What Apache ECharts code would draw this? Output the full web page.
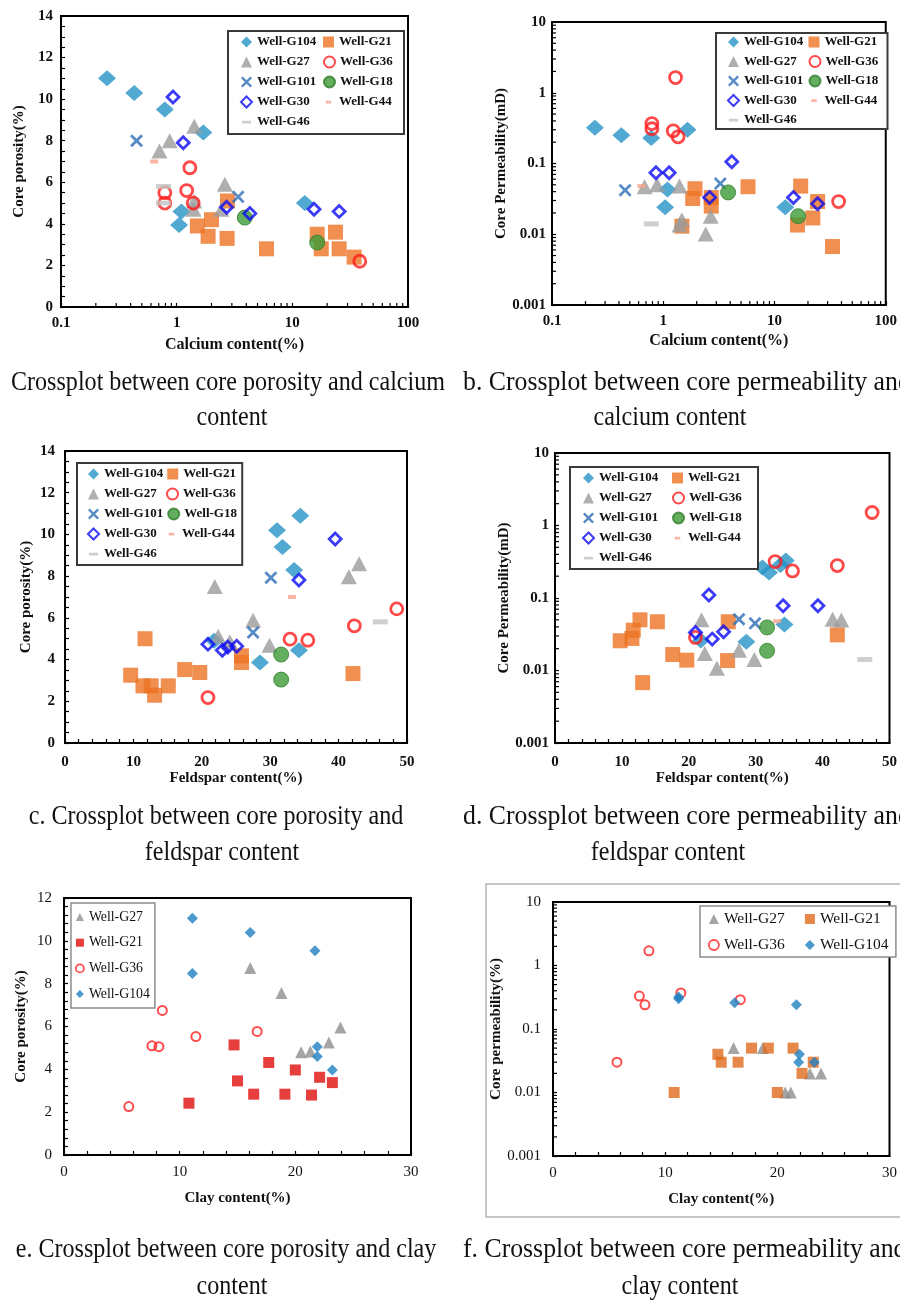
<!DOCTYPE html>
<html>
<head>
<meta charset="utf-8">
<title>Core crossplots</title>
<script src="https://cdn.jsdelivr.net/npm/echarts@6/dist/echarts.min.js"></script>
<style>
  html, body { margin: 0; padding: 0; background: #fff; }
  #chart { width: 900px; height: 1300px; }
</style>
</head>
<body>
<div id="chart"></div>
<script>
// ---------- data: calcium content (%) vs core porosity (%) ----------
const aG104 = [[0.25, 11.0], [0.43, 10.3], [0.79, 9.5], [1.70, 8.4], [1.10, 4.6], [1.05, 3.95], [12.8, 5.0]];
const aG21 = [[2.75, 5.1], [1.51, 3.9], [2.0, 4.2], [1.87, 3.4], [2.73, 3.3], [5.98, 2.8], [16.4, 3.5], [17.8, 2.8], [23.6, 3.6], [25.4, 2.8], [34.2, 2.4]];
const aG27 = [[0.71, 7.5], [0.87, 8.0], [1.42, 8.7], [2.61, 5.9], [1.42, 5.1], [1.40, 4.7], [2.44, 4.7]];
const aG36 = [[1.30, 6.7], [1.22, 5.6], [0.79, 5.5], [0.79, 5.0], [1.39, 5.0], [38.3, 2.2]];
const aG101 = [[0.45, 8.0], [3.40, 5.3]];
const aG18 = [[3.88, 4.3], [16.4, 3.1]];
const aG30 = [[0.93, 10.1], [1.14, 7.9], [2.70, 4.8], [4.29, 4.5], [15.4, 4.7], [25.4, 4.6]];
const aG44 = [[0.64, 7.0]];
const aG46 = [[0.77, 5.8], [0.77, 5.0]];

// ---------- data: calcium content (%) vs core permeability (mD) ----------
const bG104 = [[0.243, 0.32], [0.42, 0.25], [0.78, 0.23], [1.65, 0.30], [1.09, 0.043], [1.04, 0.024], [12.5, 0.024]];
const bG21 = [[1.93, 0.044], [1.84, 0.032], [1.47, 0.013], [2.70, 0.033], [2.70, 0.025], [5.78, 0.047], [17.2, 0.048], [16.1, 0.0135], [22.1, 0.017], [24.4, 0.029], [33.2, 0.0067]];
const bG27 = [[0.68, 0.047], [0.88, 0.05], [1.40, 0.048], [1.47, 0.016], [1.40, 0.0135], [2.41, 0.0101], [2.67, 0.018]];
const bG36 = [[1.29, 1.64], [0.79, 0.367], [0.79, 0.31], [1.23, 0.29], [1.36, 0.238], [37.7, 0.029]];
const bG101 = [[0.454, 0.042], [3.26, 0.052]];
const bG18 = [[3.83, 0.039], [16.3, 0.018]];
const bG30 = [[0.86, 0.074], [1.13, 0.074], [2.61, 0.033], [4.13, 0.106], [14.8, 0.033], [24.4, 0.027]];
const bG44 = [[0.636, 0.048]];
const bG46 = [[0.78, 0.014]];

// ---------- data: feldspar content (%) vs core porosity (%) ----------
const cG104 = [[34.4, 10.9], [31.0, 10.2], [31.8, 9.4], [33.5, 8.3], [34.2, 4.45], [28.5, 3.86], [21.8, 4.9]];
const cG21 = [[11.7, 5.0], [9.6, 3.25], [11.4, 2.74], [12.6, 2.74], [13.1, 2.29], [15.1, 2.74], [17.5, 3.52], [19.7, 3.38], [25.8, 4.18], [25.8, 3.86], [42.1, 3.33]];
const cG27 = [[21.9, 7.5], [22.4, 5.12], [24.1, 4.85], [27.5, 5.89], [29.9, 4.69], [41.5, 7.97], [43.0, 8.6]];
const cG36 = [[20.9, 2.18], [32.9, 4.98], [35.5, 4.93], [42.3, 5.62], [48.5, 6.43]];
const cG101 = [[30.1, 7.92], [27.5, 5.3]];
const cG18 = [[31.6, 4.24], [31.6, 3.04]];
const cG30 = [[39.5, 9.78], [34.2, 7.81], [20.9, 4.74], [23.0, 4.45], [23.8, 4.6], [25.1, 4.64]];
const cG44 = [[33.2, 7.0]];
const cG46 = [[46.1, 5.81]];

// ---------- data: feldspar content (%) vs core permeability (mD) ----------
const dG104 = [[31.0, 0.263], [32.0, 0.224], [33.7, 0.286], [34.5, 0.328], [34.3, 0.043], [28.6, 0.025], [21.8, 0.026]];
const dG21 = [[9.75, 0.0257], [11.5, 0.0277], [11.7, 0.036], [12.7, 0.05], [13.1, 0.0068], [15.3, 0.047], [17.6, 0.0166], [19.7, 0.0139], [25.9, 0.047], [25.8, 0.0137], [42.2, 0.031]];
const dG27 = [[21.9, 0.05], [22.4, 0.0172], [24.2, 0.0107], [27.5, 0.019], [29.8, 0.0142], [41.5, 0.051], [42.8, 0.0497]];
const dG36 = [[21.0, 0.0286], [32.9, 0.318], [35.5, 0.236], [42.2, 0.28], [47.4, 1.51]];
const dG101 = [[27.5, 0.051], [29.9, 0.0447]];
const dG18 = [[31.7, 0.0393], [31.7, 0.0187]];
const dG30 = [[23.0, 0.11], [21.0, 0.0335], [23.5, 0.0271], [25.2, 0.0343], [34.1, 0.0783], [39.3, 0.0783]];
const dG44 = [[33.2, 0.048]];
const dG46 = [[46.3, 0.0142]];

// ---------- data: clay content (%) vs core porosity (%) ----------
const eG27 = [[16.1, 8.73], [18.8, 7.56], [20.5, 4.8], [21.3, 4.83], [22.9, 5.25], [23.9, 5.95]];
const eG21 = [[14.7, 5.14], [10.8, 2.42], [15.0, 3.46], [16.4, 2.84], [17.7, 4.32], [19.1, 2.84], [20.0, 3.97], [21.4, 2.8], [22.1, 3.63], [23.2, 3.38]];
const eG36 = [[5.6, 2.26], [7.6, 5.1], [8.2, 5.06], [8.5, 6.75], [11.4, 5.53], [16.7, 5.77]];
const eG104 = [[11.1, 11.06], [11.1, 8.48], [16.1, 10.39], [21.7, 9.54], [21.9, 5.06], [21.9, 4.6], [23.2, 3.97]];

// ---------- data: clay content (%) vs core permeability ----------
const fG27 = [[16.1, 0.05], [18.7, 0.05], [20.7, 0.01], [21.2, 0.01], [22.9, 0.02], [23.9, 0.02]];
const fG21 = [[10.8, 0.01], [14.7, 0.04], [15.0, 0.03], [16.5, 0.03], [17.7, 0.05], [19.2, 0.05], [20.0, 0.01], [21.4, 0.05], [22.2, 0.02], [23.2, 0.03]];
const fG36 = [[5.7, 0.03], [7.7, 0.33], [8.2, 0.24], [8.55, 1.7], [11.4, 0.37], [16.7, 0.29]];
const fG104 = [[11.2, 0.32], [11.2, 0.3], [16.2, 0.26], [21.7, 0.24], [21.97, 0.04], [21.9, 0.03], [23.3, 0.03]];

// ---------- text ----------
const axisTitles = {
  calcium: 'Calcium content(%)', feldspar: 'Feldspar content(%)', clay: 'Clay content(%)',
  porosity: 'Core porosity(%)', permMD: 'Core Permeability(mD)', permPct: 'Core permeability(%)'
};
const captions = [
  ['Crossplot between core porosity and calcium', 'content'],
  ['b. Crossplot between core permeability and', 'calcium content'],
  ['c. Crossplot between core porosity and', 'feldspar content'],
  ['d. Crossplot between core permeability and', 'feldspar content'],
  ['e. Crossplot between core porosity and clay', 'content'],
  ['f. Crossplot between core permeability and', 'clay content']
];

// ---------- styling ----------
const FONT = '"Liberation Serif", "Times New Roman", serif';
const CLEAR = 'rgba(255,255,255,0)';
const X_PATH = 'path://M0,1.5L1.5,0L5,3.5L8.5,0L10,1.5L6.5,5L10,8.5L8.5,10L5,6.5L1.5,10L0,8.5L3.5,5Z';
const DASH_SHORT = 'path://M0,0L0.01,0L0,0.01Z M3,4.5H9V7.5H3Z M12,12L11.99,12L12,11.99Z';
const DASH_LONG = 'path://M0,0L0.01,0L0,0.01Z M1,4.5H11V7.5H1Z M12,12L11.99,12L12,11.99Z';

const markStyle = {
  'Well-G104': { symbol: 'diamond', symbolSize: [18, 16], itemStyle: { color: '#2592c6' }, icon: 'diamond', legendStyle: { color: '#2592c6' } },
  'Well-G21': { symbol: 'rect', symbolSize: 15, itemStyle: { color: '#ec7323' }, icon: 'rect', legendStyle: { color: '#ec7323' } },
  'Well-G27': { symbol: 'triangle', symbolSize: [16, 15], itemStyle: { color: '#9b9b9b' }, icon: 'triangle', legendStyle: { color: '#9b9b9b' } },
  'Well-G36': { symbol: 'circle', symbolSize: 12, itemStyle: { color: CLEAR, borderColor: '#ff1a1a', borderWidth: 2.8 }, icon: 'circle', legendStyle: { color: '#fff', borderColor: '#ff1a1a', borderWidth: 2 } },
  'Well-G101': { symbol: X_PATH, symbolSize: 13, itemStyle: { color: '#2c6db5' }, icon: X_PATH, legendStyle: { color: '#2c6db5' } },
  'Well-G18': { symbol: 'circle', symbolSize: 15, itemStyle: { color: '#3d9b37', borderColor: '#2f7d2b', borderWidth: 1 }, icon: 'circle', legendStyle: { color: '#3d9b37' } },
  'Well-G30': { symbol: 'diamond', symbolSize: 12, itemStyle: { color: CLEAR, borderColor: '#0a0af5', borderWidth: 2.8 }, icon: 'diamond', legendStyle: { color: '#fff', borderColor: '#0a0af5', borderWidth: 2 } },
  'Well-G44': { symbol: 'rect', symbolSize: [8, 4], itemStyle: { color: '#f6a38b' }, icon: DASH_SHORT, legendStyle: { color: '#f6a38b' } },
  'Well-G46': { symbol: 'rect', symbolSize: [15, 5], itemStyle: { color: '#c3c3c3' }, icon: DASH_LONG, legendStyle: { color: '#c3c3c3' } }
};

// clay panels use smaller marks; the porosity plot draws Well-G21 in red
const clayStyle = {
  'Well-G27': { symbol: 'triangle', symbolSize: 12, itemStyle: { color: '#8f8f8f' }, icon: 'triangle', legendStyle: { color: '#8f8f8f' } },
  'Well-G21': { symbol: 'rect', symbolSize: 11, itemStyle: { color: '#e06a1c' }, icon: 'rect', legendStyle: { color: '#e06a1c' } },
  'Well-G36': { symbol: 'circle', symbolSize: 9, itemStyle: { color: CLEAR, borderColor: '#ff1f1f', borderWidth: 2 }, icon: 'circle', legendStyle: { color: '#fff', borderColor: '#ff1f1f', borderWidth: 1.8 } },
  'Well-G104': { symbol: 'diamond', symbolSize: 11, itemStyle: { color: '#1f80c2' }, icon: 'diamond', legendStyle: { color: '#1f80c2' } }
};
const clayRed = '#e00d0d';

// ---------- panel layout ----------
const panels = [
  { grid: { left: 61, top: 16, width: 347, height: 291 },
    x: { log: true, min: 0.1, max: 100, name: axisTitles.calcium, gap: 30, margin: 9, nameSize: 16 },
    y: { min: 0, max: 14, interval: 2, minor: 4, name: axisTitles.porosity, gap: 34, margin: 8 },
    bold: true,
    wells: [['Well-G104', aG104], ['Well-G21', aG21], ['Well-G27', aG27], ['Well-G36', aG36], ['Well-G101', aG101], ['Well-G18', aG18], ['Well-G30', aG30], ['Well-G44', aG44], ['Well-G46', aG46]],
    legend: { left: 228, top: 31, width: 190, padding: [3, 2, 4, 12], textW: 63, gap: 4 } },
  { grid: { left: 552, top: 22, width: 342, height: 283 },
    x: { log: true, min: 0.1, max: 100, name: axisTitles.calcium, gap: 28, margin: 9, nameSize: 16 },
    y: { log: true, min: 0.001, max: 10, name: axisTitles.permMD, gap: 36, margin: 6 },
    bold: true,
    wells: [['Well-G104', bG104], ['Well-G21', bG21], ['Well-G27', bG27], ['Well-G36', bG36], ['Well-G101', bG101], ['Well-G18', bG18], ['Well-G30', bG30], ['Well-G44', bG44], ['Well-G46', bG46]],
    legend: { left: 716, top: 33, width: 185, padding: [1, 1, 1, 11], textW: 62, gap: 3.5 } },
  { grid: { left: 65, top: 451, width: 342, height: 292 },
    x: { min: 0, max: 50, interval: 10, minor: 5, name: axisTitles.feldspar, gap: 27, margin: 12 },
    y: { min: 0, max: 14, interval: 2, minor: 4, name: axisTitles.porosity, gap: 31, margin: 10 },
    bold: true,
    wells: [['Well-G104', cG104], ['Well-G21', cG21], ['Well-G27', cG27], ['Well-G36', cG36], ['Well-G101', cG101], ['Well-G18', cG18], ['Well-G30', cG30], ['Well-G44', cG44], ['Well-G46', cG46]],
    legend: { left: 77, top: 463, width: 180, padding: [3, 0, 3, 10], textW: 59, gap: 4 } },
  { grid: { left: 555, top: 453, width: 340, height: 290 },
    x: { min: 0, max: 50, interval: 10, minor: 5, name: axisTitles.feldspar, gap: 27, margin: 12 },
    y: { log: true, min: 0.001, max: 10, name: axisTitles.permMD, gap: 40, margin: 6 },
    bold: true,
    wells: [['Well-G104', dG104], ['Well-G21', dG21], ['Well-G27', dG27], ['Well-G36', dG36], ['Well-G101', dG101], ['Well-G18', dG18], ['Well-G30', dG30], ['Well-G44', dG44], ['Well-G46', dG46]],
    legend: { left: 570, top: 467, width: 200, padding: [3, 0, 3, 12], textW: 70, gap: 4 } },
  { grid: { left: 64, top: 898, width: 347, height: 257 },
    x: { min: 0, max: 30, interval: 10, minor: 5, name: axisTitles.clay, gap: 36, margin: 10 },
    y: { min: 0, max: 12, interval: 2, minor: 5, name: axisTitles.porosity, gap: 35, margin: 12 },
    bold: false, clay: true,
    wells: [['Well-G27', eG27], ['Well-G21', eG21], ['Well-G36', eG36], ['Well-G104', eG104]],
    legend: { left: 71, top: 903, vertical: true, padding: [5, 5, 5, 4], gap: 7.7, fontSize: 13.8, icon: 8 } },
  { grid: { left: 553, top: 902, width: 343, height: 254 },
    x: { min: 0, max: 30, interval: 10, minor: 5, name: axisTitles.clay, gap: 36, margin: 10 },
    y: { log: true, min: 0.001, max: 10, name: axisTitles.permPct, gap: 44, margin: 12 },
    bold: false, clay: true,
    wells: [['Well-G27', fG27], ['Well-G21', fG21], ['Well-G36', fG36], ['Well-G104', fG104]],
    legend: { left: 700, top: 906, width: 200, padding: [4, 3, 3, 8], textW: 73, gap: 8, fontSize: 15.5, icon: 10 } }
];

// right-hand captions run a little wider than the left-hand ones
const captionPos = [
  { x: 228, y1: 383, y2: 418, align1: 'center', x2: 232, sx: 0.86 },
  { x: 463, y1: 383, y2: 418, align1: 'left', x2: 670, sx: 0.92 },
  { x: 216, y1: 817, y2: 853, align1: 'center', x2: 222, sx: 0.86 },
  { x: 463, y1: 817, y2: 853, align1: 'left', x2: 668, sx: 0.92 },
  { x: 226, y1: 1250, y2: 1287, align1: 'center', x2: 232, sx: 0.86 },
  { x: 463, y1: 1250, y2: 1287, align1: 'left', x2: 680, sx: 0.92 }
];

// ---------- builders ----------
function axisFor(i, spec, bold) {
  const ax = {
    gridIndex: i,
    name: spec.name,
    nameLocation: 'middle',
    nameGap: spec.gap,
    nameTextStyle: { fontFamily: FONT, fontWeight: 'bold', fontSize: spec.nameSize || 15, color: '#111' },
    axisLine: { show: true, onZero: false, lineStyle: { color: '#000', width: 2 } },
    axisTick: { show: true, inside: true, length: 4, lineStyle: { color: '#000', width: 1.2 } },
    axisLabel: { fontFamily: FONT, fontWeight: bold ? 'bold' : 'normal', fontSize: 15, color: '#111', margin: spec.margin },
    splitLine: { show: false },
    min: spec.min,
    max: spec.max
  };
  if (spec.log) {
    ax.type = 'log';
    ax.logBase = 10;
  } else {
    ax.type = 'value';
    ax.interval = spec.interval;
    ax.minorTick = { show: true, splitNumber: spec.minor, length: 4, lineStyle: { color: '#000', width: 1.2 } };
  }
  return ax;
}

// 2..9 ticks inside every decade of a log axis
function logMinorTicks(i, dim, lo, hi, crossAt) {
  const vals = [];
  for (let d = lo; d < hi * 0.999; d *= 10) {
    for (let m = 2; m <= 9; m++) vals.push(+(m * d).toPrecision(3));
  }
  return {
    type: 'custom',
    xAxisIndex: i,
    yAxisIndex: i,
    silent: true,
    z: 1,
    data: vals.map(v => (dim === 'x' ? [v, crossAt] : [crossAt, v])),
    renderItem(params, api) {
      const p = api.coord([api.value(0), api.value(1)]);
      const shape = dim === 'x'
        ? { x1: p[0], y1: p[1], x2: p[0], y2: p[1] - 4 }
        : { x1: p[0], y1: p[1], x2: p[0] + 4, y2: p[1] };
      return { type: 'line', shape, style: { stroke: '#000', lineWidth: 1.2 } };
    }
  };
}

const grid = [], xAxis = [], yAxis = [], series = [], legend = [], graphic = [];

panels.forEach((p, i) => {
  grid.push(Object.assign({ show: true, borderColor: '#000', borderWidth: 2, backgroundColor: '#fff' }, p.grid));
  xAxis.push(axisFor(i, p.x, p.bold));
  yAxis.push(axisFor(i, p.y, p.bold));

  if (p.x.log) series.push(logMinorTicks(i, 'x', p.x.min, p.x.max, p.y.min));
  if (p.y.log) series.push(logMinorTicks(i, 'y', p.y.min, p.y.max, p.x.min));

  const styles = p.clay ? clayStyle : markStyle;
  p.wells.forEach(([name, data], k) => {
    const st = styles[name];
    const itemStyle = Object.assign({}, st.itemStyle);
    if (i === 4 && name === 'Well-G21') itemStyle.color = clayRed;
    series.push({
      type: 'scatter', name, data,
      xAxisIndex: i, yAxisIndex: i,
      symbol: st.symbol, symbolSize: st.symbolSize,
      itemStyle, z: 2 + k,
      emphasis: { disabled: true }
    });
  });

  const L = p.legend;
  const legendData = p.wells.map(([name]) => {
    const st = styles[name];
    const ls = Object.assign({}, st.legendStyle);
    if (i === 4 && name === 'Well-G21') ls.color = clayRed;
    return { name, icon: st.icon, itemStyle: ls };
  });
  if (p.clay) {
    legend.push({
      data: legendData, left: L.left, top: L.top,
      orient: L.vertical ? 'vertical' : 'horizontal',
      width: L.width,
      padding: L.padding, itemGap: L.gap,
      itemWidth: L.icon, itemHeight: L.icon, symbolKeepAspect: true,
      selectedMode: false,
      borderColor: '#8c8c8c', borderWidth: 1.5, backgroundColor: '#fff',
      textStyle: Object.assign({ fontFamily: FONT, fontSize: L.fontSize, color: '#111', lineHeight: 18 }, L.textW ? { width: L.textW } : {})
    });
  } else {
    legend.push({
      data: legendData, left: L.left, top: L.top,
      orient: 'horizontal', width: L.width,
      padding: L.padding, itemGap: L.gap,
      itemWidth: 11, itemHeight: 11, symbolKeepAspect: true,
      selectedMode: false,
      borderColor: '#3a3a3a', borderWidth: 2, backgroundColor: '#fff',
      textStyle: { fontFamily: FONT, fontWeight: 'bold', fontSize: 13, color: '#111', lineHeight: 16, width: L.textW - 1 }
    });
  }
});

// outer frame around the clay/permeability plot
graphic.push({
  type: 'rect', z: -10, silent: true,
  shape: { x: 486, y: 884, width: 430, height: 333 },
  style: { fill: 'none', stroke: '#b4b4b4', lineWidth: 1.5 }
});

// two-line captions under each plot, in a narrow serif face
captions.forEach((lines, i) => {
  const c = captionPos[i];
  graphic.push({
    type: 'text', silent: true,
    x: c.x, y: c.y1, scaleX: c.sx,
    style: { text: lines[0], font: '28px ' + FONT, fill: '#111', align: c.align1, verticalAlign: 'middle', textAlign: c.align1, textVerticalAlign: 'middle' }
  });
  graphic.push({
    type: 'text', silent: true,
    x: c.x2, y: c.y2, scaleX: 0.86,
    style: { text: lines[1], font: '28px ' + FONT, fill: '#111', align: 'center', verticalAlign: 'middle', textAlign: 'center', textVerticalAlign: 'middle' }
  });
});

const chart = echarts.init(document.getElementById('chart'), null, { renderer: 'canvas' });
chart.setOption({
  animation: false,
  backgroundColor: '#fff',
  grid, xAxis, yAxis, series, legend, graphic
});
</script>
</body>
</html>
